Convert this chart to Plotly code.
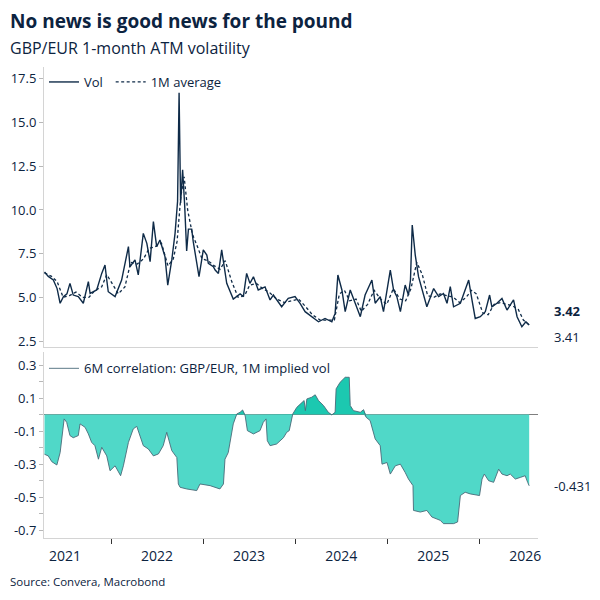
import plotly.graph_objects as go
import numpy as np

# ---------------- data ----------------
vol_dates = [
    "2021-04-12", "2021-04-27", "2021-05-17", "2021-06-01", "2021-06-13", "2021-06-26", "2021-07-10",
    "2021-07-22", "2021-08-04", "2021-08-24", "2021-09-13", "2021-10-03", "2021-10-10", "2021-11-05",
    "2021-11-25", "2021-12-08", "2021-12-15", "2021-12-21",
    "2022-01-17", "2022-02-12", "2022-03-11", "2022-03-17", "2022-04-06", "2022-04-19", "2022-05-09",
    "2022-05-23", "2022-06-05", "2022-06-18", "2022-07-01", "2022-07-14", "2022-08-03", "2022-08-14",
    "2022-08-30", "2022-09-12", "2022-09-22", "2022-09-28", "2022-10-04", "2022-10-12", "2022-10-20",
    "2022-10-28", "2022-11-04", "2022-11-17", "2022-11-23", "2022-12-07", "2022-12-16",
    "2023-01-02", "2023-01-16", "2023-01-22", "2023-02-11", "2023-02-18", "2023-03-03", "2023-03-16",
    "2023-04-05", "2023-05-01", "2023-05-28", "2023-06-10", "2023-06-23", "2023-07-06", "2023-07-20",
    "2023-08-08", "2023-09-04", "2023-09-24", "2023-10-07", "2023-11-09", "2023-12-05",
    "2024-01-01", "2024-01-21", "2024-02-10", "2024-03-07", "2024-04-03", "2024-04-29", "2024-05-26",
    "2024-06-08", "2024-06-19", "2024-07-05", "2024-07-18", "2024-08-07", "2024-08-27", "2024-09-09",
    "2024-09-16", "2024-10-05", "2024-11-01", "2024-11-14", "2024-12-04", "2024-12-17",
    "2025-01-13", "2025-01-26", "2025-02-08", "2025-02-22", "2025-03-13", "2025-03-26", "2025-04-03",
    "2025-04-10", "2025-04-22", "2025-05-05", "2025-05-19", "2025-06-07", "2025-07-04", "2025-07-24",
    "2025-08-12", "2025-08-26", "2025-09-08", "2025-09-21", "2025-10-18", "2025-10-31", "2025-11-20",
    "2025-12-03", "2025-12-16",
    "2026-01-05", "2026-01-25", "2026-02-11", "2026-02-20", "2026-03-12", "2026-04-01", "2026-04-21",
    "2026-05-17", "2026-05-31", "2026-06-19", "2026-07-05", "2026-07-18",
]
vol_values = [
    6.45, 6.2, 6.0, 5.5, 4.66, 5.04, 5.2,
    5.8, 5.13, 5.04, 4.66, 5.9, 5.22, 5.42,
    6.37, 6.85, 5.99, 5.32,
    5.04, 5.99, 7.9, 6.75, 7.14, 6.28, 8.66,
    8.09, 7.04, 9.33, 7.9, 8.28, 7.33, 5.7,
    7.14, 8.66, 10.5, 16.7, 10.4, 12.3, 10.3,
    7.65, 8.9, 8.9, 8.2, 6.94, 6.18,
    7.71, 7.42, 6.94, 6.75, 6.56, 6.37, 7.71,
    5.8, 4.9, 5.2, 5.04, 6.37, 5.8, 6.18,
    5.42, 5.6, 4.85, 5.13, 4.46, 4.94,
    5.04, 4.66, 4.18, 3.89, 3.6, 3.79, 3.6,
    4.08, 6.28, 5.42, 4.18, 5.42, 4.66, 4.08,
    3.89, 5.13, 5.99, 4.66, 5.04, 4.18,
    6.56, 5.42, 5.04, 4.18, 5.7, 5.13, 5.99,
    9.14, 7.42, 6.18, 5.42, 4.46, 5.5, 5.04,
    5.22, 4.66, 5.61, 4.46, 4.66, 5.22, 5.99,
    4.85, 3.79,
    3.89, 4.18, 5.13, 4.46, 4.66, 4.94, 4.27,
    4.85, 3.89, 3.32, 3.6, 3.42,
]

avg_dates = [
    "2021-04-12", "2021-05-10", "2021-06-01", "2021-06-25", "2021-07-20", "2021-08-15", "2021-09-10",
    "2021-10-05", "2021-10-30", "2021-11-25", "2021-12-15",
    "2022-01-05", "2022-01-30", "2022-02-25", "2022-03-20", "2022-04-15", "2022-05-10", "2022-06-01",
    "2022-06-25", "2022-07-20", "2022-08-15", "2022-09-05", "2022-09-20", "2022-10-05", "2022-10-18",
    "2022-11-01", "2022-11-20", "2022-12-10", "2022-12-28",
    "2023-01-20", "2023-02-15", "2023-03-10", "2023-03-30", "2023-04-25", "2023-05-20", "2023-06-15",
    "2023-07-05", "2023-08-01", "2023-08-25", "2023-09-20", "2023-10-20", "2023-11-20", "2023-12-15",
    "2024-01-15", "2024-02-10", "2024-03-10", "2024-04-10", "2024-05-10", "2024-06-05", "2024-06-25",
    "2024-07-15", "2024-08-05", "2024-08-30", "2024-09-20", "2024-10-15", "2024-11-10", "2024-12-05",
    "2024-12-30",
    "2025-01-25", "2025-02-20", "2025-03-15", "2025-04-05", "2025-04-28", "2025-05-20", "2025-06-10",
    "2025-07-05", "2025-07-30", "2025-08-25", "2025-09-20", "2025-10-15", "2025-11-10", "2025-12-01",
    "2025-12-20",
    "2026-01-15", "2026-02-05", "2026-03-01", "2026-03-25", "2026-04-20", "2026-05-15", "2026-06-05",
    "2026-06-25", "2026-07-18",
]
avg_values = [
    6.4, 6.2, 5.9, 5.0, 5.1, 5.3, 5.0,
    5.0, 5.4, 5.6, 6.3,
    5.8, 5.2, 5.6, 7.0, 6.9, 7.2, 7.8,
    7.9, 8.1, 6.8, 7.2, 8.2, 10.8, 11.9,
    10.0, 8.6, 7.9, 7.2,
    7.1, 6.8, 6.6, 7.1, 5.9, 5.0, 5.1,
    5.7, 5.8, 5.5, 5.3, 4.9, 4.7, 4.8,
    4.9, 4.5, 4.0, 3.7, 3.7, 3.7, 5.2,
    5.4, 4.8, 4.9, 4.2, 4.6, 5.4, 4.9,
    4.6,
    5.5, 4.9, 4.8, 5.5, 7.0, 6.3, 5.1,
    5.0, 5.2, 5.1, 5.0, 4.7, 5.0, 5.4,
    5.2,
    4.1, 4.0, 4.6, 4.7, 4.6, 4.5, 4.3,
    3.7, 3.41,
]

corr_dates = [
    "2021-04-12", "2021-04-27", "2021-05-11", "2021-05-31", "2021-06-13", "2021-06-23", "2021-06-29",
    "2021-07-09", "2021-07-22", "2021-08-04", "2021-08-24", "2021-08-31", "2021-09-20", "2021-10-03",
    "2021-10-16", "2021-10-29", "2021-11-12", "2021-11-25", "2021-12-15", "2021-12-28",
    "2022-01-17", "2022-02-08", "2022-02-19", "2022-03-11", "2022-03-30", "2022-04-13", "2022-04-26",
    "2022-05-09", "2022-05-29", "2022-06-18", "2022-07-08", "2022-07-27", "2022-08-10", "2022-08-30",
    "2022-09-19", "2022-09-25", "2022-10-02", "2022-10-28", "2022-12-07", "2022-12-20",
    "2023-01-29", "2023-03-09", "2023-03-23", "2023-03-29", "2023-04-11", "2023-04-21", "2023-05-01",
    "2023-05-15", "2023-05-28", "2023-06-07", "2023-06-17", "2023-06-26", "2023-07-20", "2023-08-15",
    "2023-08-28", "2023-09-08", "2023-09-13", "2023-09-24", "2023-10-20", "2023-11-16", "2023-11-29",
    "2023-12-09", "2023-12-12", "2023-12-23",
    "2024-01-08", "2024-01-21", "2024-02-06", "2024-02-11", "2024-02-17", "2024-03-07", "2024-03-21",
    "2024-04-03", "2024-04-23", "2024-05-12", "2024-05-26", "2024-06-08", "2024-06-12", "2024-06-28",
    "2024-07-18", "2024-08-03", "2024-08-07", "2024-08-20", "2024-09-16", "2024-09-29", "2024-10-09",
    "2024-10-25", "2024-11-01", "2024-11-14", "2024-12-04", "2024-12-11", "2024-12-31",
    "2025-01-13", "2025-02-02", "2025-02-22", "2025-03-13", "2025-03-26", "2025-04-13", "2025-04-15",
    "2025-05-12", "2025-06-07", "2025-06-27", "2025-07-30", "2025-08-12", "2025-09-21", "2025-10-07",
    "2025-10-18", "2025-11-06", "2025-11-26",
    "2026-01-02", "2026-01-12", "2026-01-21", "2026-02-07", "2026-02-27", "2026-03-19", "2026-04-01",
    "2026-04-21", "2026-05-04", "2026-05-24", "2026-06-13", "2026-07-02", "2026-07-12", "2026-07-18",
]
corr_values = [
    -0.24, -0.25, -0.285, -0.305, -0.23, -0.107, -0.026,
    -0.047, -0.127, -0.14, -0.127, -0.056, -0.077, -0.117,
    -0.168, -0.188, -0.27, -0.198, -0.25, -0.34,
    -0.31, -0.37, -0.31, -0.168, -0.087, -0.071, -0.127,
    -0.188, -0.208, -0.25, -0.238, -0.188, -0.107, -0.218,
    -0.26, -0.42, -0.44, -0.45, -0.46, -0.42,
    -0.43, -0.45, -0.42, -0.27, -0.23, -0.147, -0.056,
    0.004, 0.014, 0.028, -0.006, -0.097, -0.117, -0.097,
    -0.047, -0.026, -0.158, -0.188, -0.178, -0.14, -0.107,
    -0.097, -0.077, 0.004,
    0.044, 0.065, 0.085, 0.024, 0.095, 0.105, 0.12,
    0.085, 0.055, 0.014, -0.002, 0.014, 0.156, 0.196,
    0.226, 0.226, 0.055, 0.024, 0.014, 0.03, -0.016,
    -0.036, -0.077, -0.147, -0.188, -0.3, -0.29,
    -0.36, -0.31, -0.3, -0.35, -0.39, -0.43, -0.58,
    -0.59, -0.58, -0.62, -0.64, -0.66, -0.66, -0.65,
    -0.49, -0.47, -0.48,
    -0.49, -0.39, -0.36, -0.4, -0.41, -0.33, -0.36,
    -0.37, -0.36, -0.39, -0.38, -0.37, -0.41, -0.431,
]

vol_last_label = "3.42"
avg_last_label = "3.41"
corr_last_label = "-0.431"

top_ticks = [2.5, 5.0, 7.5, 10.0, 12.5, 15.0, 17.5]
bottom_ticks = [-0.7, -0.5, -0.3, -0.1, 0.1, 0.3]

# ---------------- style ----------------
NAVY = "#0c2340"
LINE = "#0f2b48"
AXIS = "#d4d4d4"
FONT = "Open Sans"
NEG_FILL = "#50d8c8"
POS_FILL = "#1cc8b0"

corr_arr = np.array(corr_values)
pos_part = np.maximum(corr_arr, 0)
neg_part = np.minimum(corr_arr, 0)

fig = go.Figure()

fig.add_trace(go.Scatter(x=avg_dates, y=avg_values, mode="lines", name="1M average",
                         line=dict(color=LINE, width=1.3, dash="3px,2.5px"),
                         xaxis="x", yaxis="y", legend="legend3"))
fig.add_trace(go.Scatter(x=vol_dates, y=vol_values, mode="lines", name="Vol",
                         line=dict(color=LINE, width=1.4),
                         xaxis="x", yaxis="y", legend="legend"))

fig.add_trace(go.Scatter(x=corr_dates, y=neg_part, mode="lines", fill="tozeroy",
                         fillcolor=NEG_FILL, line=dict(width=0), showlegend=False,
                         hoverinfo="skip", xaxis="x2", yaxis="y2"))
fig.add_trace(go.Scatter(x=corr_dates, y=pos_part, mode="lines", fill="tozeroy",
                         fillcolor=POS_FILL, line=dict(width=0), showlegend=False,
                         hoverinfo="skip", xaxis="x2", yaxis="y2"))
fig.add_trace(go.Scatter(x=corr_dates, y=corr_values, mode="lines",
                         name="6M correlation: GBP/EUR, 1M implied vol",
                         line=dict(color="#4a6a78", width=0.9),
                         xaxis="x2", yaxis="y2", legend="legend2"))

xrange = ["2021-04-10", "2026-08-22"]

legend_common = dict(xanchor="left", yanchor="top", orientation="h",
                     bgcolor="rgba(255,255,255,0)", font=dict(size=13, color=NAVY),
                     itemwidth=30)

fig.update_layout(
    width=600, height=600,
    paper_bgcolor="white", plot_bgcolor="white",
    margin=dict(l=44, r=62, t=67, b=62),
    font=dict(family=FONT, color=NAVY, size=13),
    xaxis=dict(domain=[0, 1], anchor="y", range=xrange, type="date",
               showline=True, linecolor=AXIS, linewidth=1, ticks="",
               showticklabels=False, showgrid=False, zeroline=False,
               dtick="M12", tick0="2021-01-01"),
    yaxis=dict(domain=[0.4055, 1], anchor="x", range=[2.157, 18.18],
               tickmode="array", tickvals=top_ticks,
               ticktext=[f"{v:.1f}" for v in top_ticks],
               showline=True, linecolor=AXIS, linewidth=1,
               ticks="outside", ticklen=4, tickcolor="#b8b8b8",
               showgrid=False, zeroline=False, tickfont=dict(size=13, color=NAVY)),
    xaxis2=dict(domain=[0, 1], anchor="y2", range=xrange, type="date",
                showline=True, linecolor=AXIS, linewidth=1,
                ticks="outside", ticklen=5, tickcolor="#333333",
                dtick="M12", tick0="2021-01-01", ticklabelmode="period",
                tickformat="%Y", showgrid=False, zeroline=False,
                tickfont=dict(size=14, color=NAVY)),
    yaxis2=dict(domain=[0, 0.3949], anchor="x2", range=[-0.747, 0.379],
                tickmode="array", tickvals=bottom_ticks,
                ticktext=[f"{v:.1f}" for v in bottom_ticks],
                minor=dict(tickmode="linear", tick0=0, dtick=0.1, ticks="outside",
                           ticklen=4, tickcolor="#b8b8b8", showgrid=False),
                showline=True, linecolor=AXIS, linewidth=1,
                ticks="outside", ticklen=4, tickcolor="#b8b8b8",
                showgrid=False, zeroline=True, zerolinecolor="#7f7f7f", zerolinewidth=1,
                tickfont=dict(size=13, color=NAVY)),
    legend=dict(x=0.0, y=1.0, **legend_common),
    legend3=dict(x=0.135, y=1.0, **legend_common),
    legend2=dict(x=0.0, y=0.392, **legend_common),
    showlegend=True,
)

fig.add_annotation(text="<b>No news is good news for the pound</b>", xref="paper", yref="paper",
                   x=-36 / 494, y=1 + (67 - 21) / 471, xanchor="left", yanchor="middle",
                   showarrow=False, font=dict(size=19, color=NAVY, family=FONT))
fig.add_annotation(text="GBP/EUR 1-month ATM volatility", xref="paper", yref="paper",
                   x=-36 / 494, y=1 + (67 - 48) / 471, xanchor="left", yanchor="middle",
                   showarrow=False, font=dict(size=16, color=NAVY, family=FONT))
fig.add_annotation(text="Source: Convera, Macrobond", xref="paper", yref="paper",
                   x=-36 / 494, y=-(581 - 538) / 471, xanchor="left", yanchor="middle",
                   showarrow=False, font=dict(size=11.5, color=NAVY, family=FONT))

fig.add_annotation(text=f"<b>{vol_last_label}</b>", xref="paper", yref="y",
                   x=1.028, y=vol_values[-1], yshift=14, xanchor="left", yanchor="middle",
                   showarrow=False, font=dict(size=13, color=NAVY))
fig.add_annotation(text=avg_last_label, xref="paper", yref="y",
                   x=1.028, y=avg_values[-1], yshift=-12, xanchor="left", yanchor="middle",
                   showarrow=False, font=dict(size=13, color=NAVY))
fig.add_annotation(text=corr_last_label, xref="paper", yref="y2",
                   x=1.028, y=corr_values[-1], xanchor="left", yanchor="middle",
                   showarrow=False, font=dict(size=13, color=NAVY))

fig.write_html("out.html")
